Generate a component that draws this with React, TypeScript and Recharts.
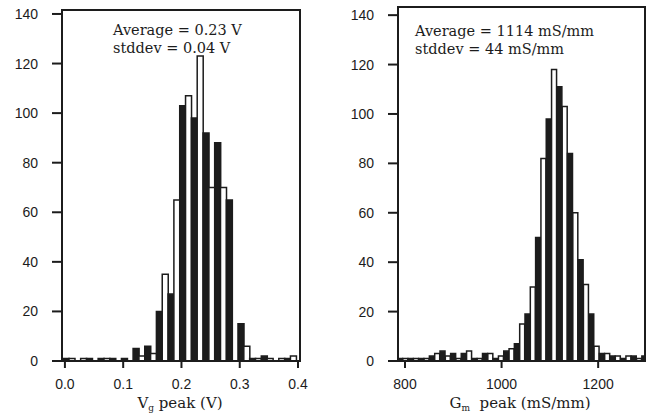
import { BarChart, Bar, Cell, XAxis, YAxis, ReferenceArea } from 'recharts'

// V_g peak histogram (bin centres in V, counts)
const vgCenters = [
  0.002, 0.012, 0.022, 0.032, 0.042, 0.052, 0.062, 0.072, 0.082, 0.092,
  0.102, 0.112, 0.122, 0.132, 0.142, 0.152, 0.162, 0.172, 0.182, 0.192,
  0.202, 0.212, 0.222, 0.232, 0.242, 0.252, 0.262, 0.272, 0.282, 0.292,
  0.302, 0.312, 0.322, 0.332, 0.342, 0.352, 0.362, 0.372, 0.382, 0.392,
]
const vgCounts = [
  1, 1, 0, 1, 1, 0, 1, 1, 1, 0,
  1, 0, 5, 2, 6, 3, 20, 35, 27, 65,
  103, 107, 98, 123, 92, 70, 88, 70, 65, 0,
  15, 6, 1, 1, 2, 1, 0, 1, 1, 2,
]
const vgTicks = [0, 0.1, 0.2, 0.3, 0.4]

// G_m peak histogram (bin centres in mS/mm, counts)
const gmCenters = [
  790, 801, 812, 823, 834, 845, 856, 867, 878, 889,
  900, 911, 922, 933, 944, 955, 966, 977, 988, 999,
  1010, 1021, 1032, 1043, 1054, 1065, 1076, 1087, 1098, 1109,
  1120, 1131, 1142, 1153, 1164, 1175, 1186, 1197, 1208, 1219,
  1230, 1241, 1252, 1263, 1274, 1285, 1296,
]
const gmCounts = [
  1, 1, 1, 1, 1, 1, 2, 3, 4, 2,
  3, 1, 3, 4, 1, 1, 3, 3, 1, 2,
  4, 5, 7, 15, 19, 30, 50, 82, 98, 118,
  111, 103, 84, 60, 41, 31, 19, 6, 3, 3,
  2, 2, 1, 2, 2, 1, 2,
]
const gmTicks = [800, 1000, 1200]

const countTicks = [0, 20, 40, 60, 80, 100, 120, 140]

const INK = '#1c1c1c'
const tickFont = { fill: INK, fontSize: 14, fontFamily: 'Liberation Sans, Arial, sans-serif' }
const serif = 'DejaVu Serif, serif'

interface HistProps {
  centers: number[]
  counts: number[]
  xDomain: [number, number]
  yMax: number
  xTicks: number[]
  fmt: (v: number) => string
  width: number
  top: number
  yAxisWidth: number
  right: number
}

function Histogram({ centers, counts, xDomain, yMax, xTicks, fmt, width, top, yAxisWidth, right }: HistProps) {
  const data = centers.map((x, i) => ({ x, n: counts[i] }))
  return (
    <BarChart
      width={width}
      height={414}
      data={data}
      margin={{ top, right, left: 0, bottom: 23 }}
      barCategoryGap={0}
      barGap={0}
    >
      <XAxis
        type="number"
        dataKey="x"
        domain={xDomain}
        ticks={xTicks}
        tickFormatter={fmt}
        allowDataOverflow
        height={30}
        tick={tickFont}
        tickSize={7}
        tickMargin={11}
        stroke={INK}
        strokeWidth={2}
      />
      <YAxis
        type="number"
        domain={[0, yMax]}
        ticks={countTicks}
        allowDataOverflow
        width={yAxisWidth}
        tick={tickFont}
        tickSize={10}
        tickMargin={14}
        stroke={INK}
        strokeWidth={2}
      />
      <ReferenceArea
        x1={xDomain[0]}
        x2={xDomain[1]}
        y1={0}
        y2={yMax}
        fill="none"
        stroke={INK}
        strokeWidth={2}
        ifOverflow="visible"
      />
      <Bar dataKey="n" isAnimationActive={false} stroke={INK} strokeWidth={1.5}>
        {data.map((_, i) => (
          <Cell key={i} fill={i % 2 === 0 ? INK : '#ffffff'} />
        ))}
      </Bar>
    </BarChart>
  )
}

const textLine = (left: number, top: number, size: number): React.CSSProperties => ({
  position: 'absolute',
  left,
  top,
  fontFamily: serif,
  fontSize: size,
  color: INK,
  lineHeight: 1,
  whiteSpace: 'nowrap',
})

const subStyle: React.CSSProperties = { fontSize: 9, verticalAlign: 'baseline', position: 'relative', top: 3 }

export default function App() {
  return (
    <div style={{ position: 'absolute', left: 0, top: 0, width: 651, height: 414, background: '#fff', overflow: 'hidden' }}>
      <div style={{ position: 'absolute', left: 0, top: 0 }}>
        <Histogram
          centers={vgCenters}
          counts={vgCounts}
          xDomain={[-0.005, 0.4034]}
          yMax={141.6}
          xTicks={vgTicks}
          fmt={v => v.toFixed(1)}
          width={330}
          top={10}
          yAxisWidth={62}
          right={30}
        />
      </div>
      <div style={{ position: 'absolute', left: 330, top: 0 }}>
        <Histogram
          centers={gmCenters}
          counts={gmCounts}
          xDomain={[785.5, 1297]}
          yMax={143.3}
          xTicks={gmTicks}
          fmt={v => String(v)}
          width={321}
          top={7}
          yAxisWidth={68}
          right={6}
        />
      </div>

      <div style={textLine(113, 23, 14.5)}>Average = 0.23 V</div>
      <div style={textLine(113, 41, 14.5)}>stddev = 0.04 V</div>
      <div style={textLine(415, 24, 14.5)}>Average = 1114 mS/mm</div>
      <div style={textLine(415, 42, 14.5)}>stddev = 44 mS/mm</div>

      <div style={{ ...textLine(0, 396, 15), width: 360, textAlign: 'center' }}>
        V<span style={subStyle}>g</span> peak (V)
      </div>
      <div style={{ ...textLine(340, 396, 15), width: 360, textAlign: 'center' }}>
        G<span style={subStyle}>m</span>&nbsp; peak (mS/mm)
      </div>
    </div>
  )
}
